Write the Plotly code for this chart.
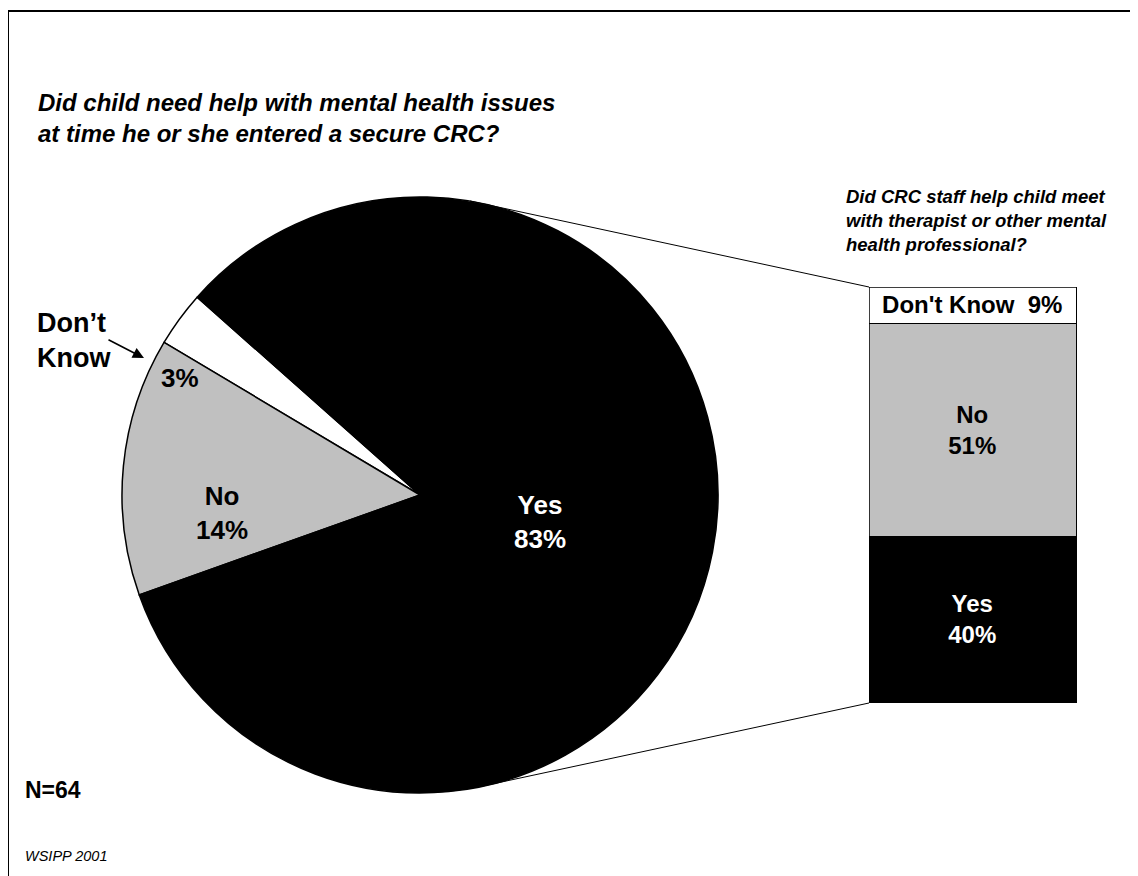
import plotly.graph_objects as go

# ---------------- data ----------------
pie_labels = ["Don\u2019t Know", "No", "Yes"]
pie_values = [3, 14, 83]
pie_colors = ["#FFFFFF", "#C0C0C0", "#000000"]

bar_labels = ["Yes", "No", "Don't Know"]
bar_values = [40, 51, 9]
bar_colors = ["#000000", "#C0C0C0", "#FFFFFF"]
bar_text_colors = ["#FFFFFF", "#000000", "#000000"]

question_left = "Did child need help with mental health issues<br>at time he or she entered a secure CRC?"
question_right = "Did CRC staff help child meet<br>with therapist or other mental<br>health professional?"
n_label = "N=64"
source_label = "WSIPP 2001"

# ---------------- layout helpers ----------------
W, H = 1138, 876
OFF = 8  # page body margin
FONT = "Arial, 'Liberation Sans', sans-serif"


def px(x):
    return (x - OFF) / W


def py(y):
    return 1 - (y - OFF) / H


# pie geometry (pixels in screenshot)
cx, cy, r = 420, 495, 298
# bar geometry (pixels in screenshot)
bx0, bx1, by0, by1 = 869, 1077, 287, 703

fig = go.Figure()

fig.add_trace(go.Pie(
    labels=pie_labels,
    values=pie_values,
    sort=False,
    direction="counterclockwise",
    rotation=-59.2,
    marker=dict(colors=pie_colors, line=dict(color="#000000", width=1.5)),
    textinfo="none",
    hoverinfo="label+percent",
    showlegend=False,
    domain=dict(x=[px(cx - r), px(cx + r)], y=[py(cy + r), py(cy - r)]),
))

for lab, val, col, tcol in zip(bar_labels, bar_values, bar_colors, bar_text_colors):
    txt = f"<b>{lab}  {val}%</b>" if lab == "Don't Know" else f"<b>{lab}<br>{val}%</b>"
    fig.add_trace(go.Bar(
        x=[0], y=[val],
        marker=dict(color=col, line=dict(color="#000000", width=1.5)),
        text=[txt],
        textposition="inside",
        insidetextanchor="middle",
        constraintext="none",
        cliponaxis=False,
        textfont=dict(family=FONT, size=24, color=tcol),
        showlegend=False,
        hoverinfo="y",
        width=1,
    ))

annotations = []

# pie labels
pie_label_pos = {"Yes": (540, 522), "No": (222, 513), "Don\u2019t Know": (180, 378)}
for lab, val, tcol in zip(pie_labels, pie_values, ["#000000", "#000000", "#FFFFFF"]):
    x, y = pie_label_pos[lab]
    txt = f"{val}%" if lab.startswith("Don") else f"{lab}<br>{val}%"
    annotations.append(dict(
        x=px(x), y=py(y), xref="paper", yref="paper", text=f"<b>{txt}</b>",
        showarrow=False, xanchor="center", yanchor="middle",
        font=dict(family=FONT, size=26, color=tcol),
    ))

# Don't Know outer label + arrow
annotations.append(dict(
    x=px(35), y=py(340), xref="paper", yref="paper",
    text="<b>Don\u2019t<br>Know</b>", showarrow=False, align="left",
    xanchor="left", yanchor="middle",
    font=dict(family=FONT, size=27, color="#000000"),
))
annotations.append(dict(
    x=px(144), y=py(358), xref="paper", yref="paper", text="",
    showarrow=True, arrowhead=2, arrowsize=1.4, arrowwidth=1.6, arrowcolor="#000000",
    ax=-37, ay=-19,
))

# questions
annotations.append(dict(
    x=px(36), y=py(118), xref="paper", yref="paper",
    text=f"<b><i>{question_left}</i></b>", showarrow=False, align="left",
    xanchor="left", yanchor="middle",
    font=dict(family=FONT, size=24, color="#000000"),
))
annotations.append(dict(
    x=px(844), y=py(221), xref="paper", yref="paper",
    text=f"<b><i>{question_right}</i></b>", showarrow=False, align="left",
    xanchor="left", yanchor="middle",
    font=dict(family=FONT, size=18.5, color="#000000"),
))
annotations.append(dict(
    x=px(23), y=py(790), xref="paper", yref="paper",
    text=f"<b>{n_label}</b>", showarrow=False, align="left",
    xanchor="left", yanchor="middle",
    font=dict(family=FONT, size=23, color="#000000"),
))
annotations.append(dict(
    x=px(23), y=py(856), xref="paper", yref="paper",
    text=f"<i>{source_label}</i>", showarrow=False, align="left",
    xanchor="left", yanchor="middle",
    font=dict(family=FONT, size=14.5, color="#000000"),
))

shapes = [
    # outline of the stacked bar
    dict(type="rect", xref="x", yref="y", x0=-0.5, x1=0.5, y0=0, y1=sum(bar_values),
         line=dict(color="#000000", width=1.5), fillcolor="rgba(0,0,0,0)", layer="above"),
    # connector lines from pie to bar
    dict(type="line", xref="paper", yref="paper",
         x0=px(470), y0=py(201), x1=px(bx0), y1=py(by0),
         line=dict(color="#000000", width=1)),
    dict(type="line", xref="paper", yref="paper",
         x0=px(483), y0=py(786), x1=px(bx0), y1=py(by1),
         line=dict(color="#000000", width=1)),
    # frame
    dict(type="line", xref="paper", yref="paper",
         x0=px(8), y0=py(11), x1=1.02, y1=py(11),
         line=dict(color="#000000", width=2)),
    dict(type="line", xref="paper", yref="paper",
         x0=px(8), y0=py(11), x1=px(8), y1=-0.02,
         line=dict(color="#000000", width=2)),
]

fig.update_layout(
    width=W, height=H,
    margin=dict(l=0, r=0, t=0, b=0),
    paper_bgcolor="#FFFFFF", plot_bgcolor="rgba(0,0,0,0)",
    barmode="stack", bargap=0,
    xaxis=dict(domain=[px(bx0), px(bx1)], range=[-0.5, 0.5], visible=False, fixedrange=True),
    yaxis=dict(domain=[py(by1), py(by0)], range=[0, 100], visible=False, fixedrange=True),
    annotations=annotations,
    shapes=shapes,
    font=dict(family=FONT, color="#000000"),
    showlegend=False,
)

fig.write_html("out.html")
